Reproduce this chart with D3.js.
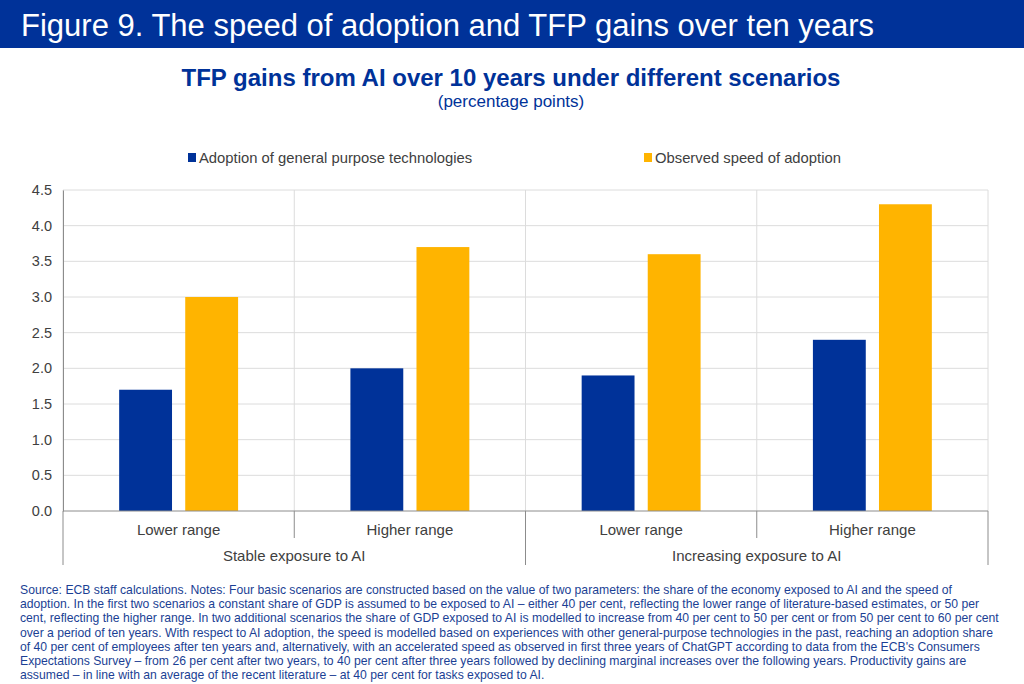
<!DOCTYPE html>
<html>
<head>
<meta charset="utf-8">
<script src="https://cdn.jsdelivr.net/npm/d3@7"></script>
<style>
  body { margin: 0; background: #fff; }
  svg text { font-family: Arial, "Liberation Sans", sans-serif; }
</style>
</head>
<body>
<svg id="chart" width="1024" height="684"></svg>
<script>
var groups = ["Stable exposure to AI", "Increasing exposure to AI"];
var ranges = ["Lower range", "Higher range"];
var series = ["Adoption of general purpose technologies", "Observed speed of adoption"];
var generalPurpose = [1.7, 2.0, 1.9, 2.4];
var observedSpeed = [3.0, 3.7, 3.6, 4.3];
var yTicks = [0, 0.5, 1, 1.5, 2, 2.5, 3, 3.5, 4, 4.5];
var notes = [
  "Source: ECB staff calculations. Notes: Four basic scenarios are constructed based on the value of two parameters: the share of the economy exposed to AI and the speed of",
  "adoption. In the first two scenarios a constant share of GDP is assumed to be exposed to AI \u2013 either 40 per cent, reflecting the lower range of literature-based estimates, or 50 per",
  "cent, reflecting the higher range. In two additional scenarios the share of GDP exposed to AI is modelled to increase from 40 per cent to 50 per cent or from 50 per cent to 60 per cent",
  "over a period of ten years. With respect to AI adoption, the speed is modelled based on experiences with other general-purpose technologies in the past, reaching an adoption share",
  "of 40 per cent of employees after ten years and, alternatively, with an accelerated speed as observed in first three years of ChatGPT according to data from the ECB's Consumers",
  "Expectations Survey \u2013 from 26 per cent after two years, to 40 per cent after three years followed by declining marginal increases over the following years. Productivity gains are",
  "assumed \u2013 in line with an average of the recent literature \u2013 at 40 per cent for tasks exposed to AI."
];

var blue = "#003299", yellow = "#ffb400";
var svg = d3.select("#chart");

// header band
svg.append("rect").attr("x", 0).attr("y", 0).attr("width", 1024).attr("height", 48).attr("fill", blue);
svg.append("text").attr("x", 21).attr("y", 36)
  .attr("font-size", 31).attr("fill", "#fff")
  .text("Figure 9. The speed of adoption and TFP gains over ten years");

svg.append("text").attr("x", 511).attr("y", 86).attr("text-anchor", "middle")
  .attr("font-size", 24).attr("font-weight", "bold").attr("fill", blue)
  .text("TFP gains from AI over 10 years under different scenarios");
svg.append("text").attr("x", 511).attr("y", 107).attr("text-anchor", "middle")
  .attr("font-size", 17).attr("fill", blue)
  .text("(percentage points)");

var color = d3.scaleOrdinal().domain(series).range([blue, yellow]);

// legend
var legendX = [188, 644];
var legend = svg.selectAll(".legend").data(series).enter().append("g")
  .attr("transform", function(d, i) { return "translate(" + legendX[i] + ",153)"; });
legend.append("rect").attr("width", 8).attr("height", 9).attr("fill", function(d) { return color(d); });
legend.append("text").attr("x", 11).attr("y", 9.5).attr("font-size", 14.8).attr("fill", "#404040")
  .text(function(d) { return d; });

var plotLeft = 63, plotRight = 988, plotTop = 190, plotBottom = 511;

var cats = [];
groups.forEach(function(g, gi) {
  ranges.forEach(function(r, ri) {
    var k = gi * ranges.length + ri;
    cats.push({ id: k, group: g, range: r, values: [generalPurpose[k], observedSpeed[k]] });
  });
});

var x0 = d3.scaleBand().domain(cats.map(function(d) { return d.id; })).range([plotLeft, plotRight]);
var x1 = d3.scaleBand().domain(series).range([0, x0.bandwidth()]).paddingInner(0.2).paddingOuter(0.85);
var y = d3.scaleLinear().domain([0, 4.5]).range([plotBottom, plotTop]);

// horizontal grid
svg.append("g").selectAll("line").data(yTicks.slice(1)).enter().append("line")
  .attr("x1", plotLeft).attr("x2", plotRight)
  .attr("y1", function(d) { return y(d); }).attr("y2", function(d) { return y(d); })
  .attr("stroke", "#dcdcdc").attr("stroke-width", 1);

// vertical grid at category borders
var borders = d3.range(cats.length + 1).map(function(i) { return plotLeft + i * x0.step(); });
svg.append("g").selectAll("line").data(borders).enter().append("line")
  .attr("x1", function(d) { return d; }).attr("x2", function(d) { return d; })
  .attr("y1", plotTop).attr("y2", plotBottom)
  .attr("stroke", "#dcdcdc").attr("stroke-width", 1);

// bars
var cg = svg.append("g").selectAll("g").data(cats).enter().append("g")
  .attr("transform", function(d) { return "translate(" + x0(d.id) + ",0)"; });
cg.selectAll("rect").data(function(d) {
    return d.values.map(function(v, i) { return { s: series[i], v: v }; });
  }).enter().append("rect")
  .attr("x", function(d) { return x1(d.s); })
  .attr("width", x1.bandwidth())
  .attr("y", function(d) { return y(d.v); })
  .attr("height", function(d) { return y(0) - y(d.v); })
  .attr("fill", function(d) { return color(d.s); });

// y axis
var yAxis = svg.append("g").attr("transform", "translate(" + plotLeft + ",0)")
  .call(d3.axisLeft(y).tickValues(yTicks).tickFormat(d3.format(".1f")).tickSize(0).tickPadding(11));
yAxis.select(".domain").attr("stroke", "#8c8c8c");
yAxis.selectAll("text").attr("font-size", 14.5).attr("fill", "#404040")
  .style("font-family", "Arial, 'Liberation Sans', sans-serif");

// x axis line and separators
svg.append("line").attr("x1", plotLeft).attr("x2", plotRight).attr("y1", plotBottom).attr("y2", plotBottom)
  .attr("stroke", "#8c8c8c");
svg.append("g").selectAll("line").data(borders).enter().append("line")
  .attr("x1", function(d) { return d; }).attr("x2", function(d) { return d; })
  .attr("y1", plotBottom)
  .attr("y2", function(d, i) { return i % ranges.length === 0 ? 565 : 538; })
  .attr("stroke", "#8c8c8c");

svg.append("g").selectAll("text").data(cats).enter().append("text")
  .attr("x", function(d) { return x0(d.id) + x0.bandwidth() / 2; })
  .attr("y", 535).attr("text-anchor", "middle").attr("font-size", 15).attr("fill", "#404040")
  .text(function(d) { return d.range; });

svg.append("g").selectAll("text").data(groups).enter().append("text")
  .attr("x", function(d, i) { return plotLeft + (i + 0.5) * ranges.length * x0.step(); })
  .attr("y", 561).attr("text-anchor", "middle").attr("font-size", 15).attr("fill", "#404040")
  .text(function(d) { return d; });

// notes
svg.append("g").selectAll("text").data(notes).enter().append("text")
  .attr("x", 20).attr("y", function(d, i) { return 594 + i * 14.2; })
  .attr("font-size", 12.2).attr("fill", "#1b3f94")
  .text(function(d) { return d; });
</script>
</body>
</html>
